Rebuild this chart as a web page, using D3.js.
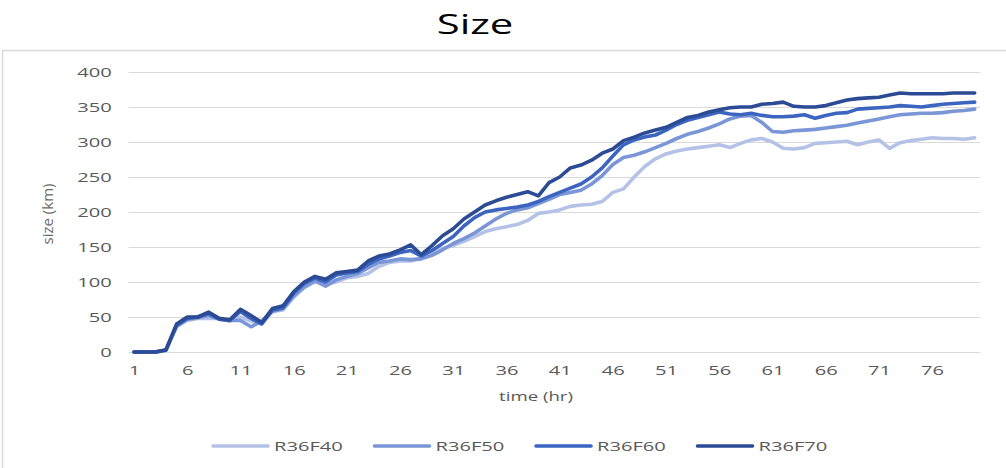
<!DOCTYPE html>
<html>
<head>
<meta charset="utf-8">
<script src="https://cdn.jsdelivr.net/npm/d3@7"></script>
<style>
  html, body { margin: 0; padding: 0; background: #fff; }
  svg { display: block; font-family: "Open Sans", "Noto Sans", "DejaVu Sans", sans-serif; }
</style>
</head>
<body>
<svg id="chart" width="1006" height="468"></svg>
<script>
// Hours 1..80
const hours = d3.range(1, 81);

const seriesNames = ["R36F40", "R36F50", "R36F60", "R36F70"];
const seriesColors = ["#b3c2e6", "#7a96d7", "#3b65c0", "#2b4b94"];

const r36f40 = [0,0,0,2,36,45,48,48,48,44, 50,44,40,58,60,78,92,100,97,100,
  106,108,112,122,128,130,130,134,140,148, 152,158,165,172,176,179,182,188,198,200,
  203,208,210,211,215,228,233,250,265,276, 283,287,290,292,294,296,292,298,303,305,
  300,291,290,292,298,299,300,301,296,300, 303,291,299,302,304,306,305,305,304,306];

const r36f50 = [0,0,0,3,37,47,49,52,47,45, 45,36,44,58,62,80,93,102,94,103,
  108,112,120,128,130,133,132,133,138,146, 155,162,170,180,190,198,203,206,212,218,
  225,228,231,240,252,268,278,281,286,292, 298,305,311,315,320,326,333,337,338,328,
  315,314,316,317,318,320,322,324,327,330, 333,336,339,340,341,341,342,344,345,347];

const r36f60 = [0,0,0,3,38,48,50,55,47,45, 58,48,40,60,63,84,98,106,100,110,
  113,115,125,133,137,142,145,137,145,155, 165,180,192,200,203,205,207,210,215,222,
  228,234,240,250,263,280,296,303,307,310, 317,325,331,335,339,343,340,339,341,338,
  336,336,337,339,334,338,341,342,347,348, 349,350,352,351,350,352,354,355,356,357];

const r36f70 = [0,0,0,3,40,50,50,57,48,46, 61,52,42,62,66,86,100,108,104,113,
  115,117,130,137,140,146,153,139,152,166, 176,190,200,210,216,221,225,229,223,242,
  250,263,267,274,284,290,302,307,313,317, 321,328,335,338,343,346,349,350,350,354,
  355,357,351,350,350,352,356,360,362,363, 364,367,370,369,369,369,369,370,370,370];

const seriesValues = [r36f40, r36f50, r36f60, r36f70];

const yTicks = [0, 50, 100, 150, 200, 250, 300, 350, 400];
const xTickLabels = [1, 6, 11, 16, 21, 26, 31, 36, 41, 46, 51, 56, 61, 66, 71, 76];

const svg = d3.select("#chart");
const W = 1006, H = 468;
const plot = { left: 128.7, right: 980, top: 72, bottom: 352 };
// wide lettering: glyphs are drawn horizontally widened
const SX = 1.55;

// Chart-area frame
svg.append("rect")
  .attr("x", 2.5).attr("y", 50.5)
  .attr("width", W + 20).attr("height", H)
  .attr("fill", "none").attr("stroke", "#d9d9d9").attr("stroke-width", 1.5);

// Title
svg.append("text")
  .attr("transform", `translate(475,34) scale(${SX},1)`)
  .attr("text-anchor", "middle")
  .attr("font-size", 27).attr("fill", "#000")
  .text("Size");

const x = d3.scalePoint().domain(hours).range([plot.left, plot.right]).padding(0.5);
const y = d3.scaleLinear().domain([0, 400]).range([plot.bottom, plot.top]);

// Horizontal gridlines + y axis labels
const yAxis = d3.axisLeft(y).tickValues(yTicks).tickSize(-(plot.right - plot.left)).tickPadding(0);
const gy = svg.append("g").attr("transform", `translate(${plot.left},0)`).call(yAxis);
gy.select(".domain").remove();
gy.selectAll(".tick line").attr("stroke", "#d9d9d9").attr("stroke-width", 1.2);
gy.selectAll(".tick text")
  .attr("x", -17 / SX)
  .attr("transform", `scale(${SX},1)`)
  .attr("fill", "#595959").attr("font-size", 13)
  .attr("font-family", "\"Open Sans\", sans-serif");

// x axis labels
const xAxis = d3.axisBottom(x).tickValues(xTickLabels).tickSize(0).tickPadding(14);
const gx = svg.append("g").attr("transform", `translate(0,${plot.bottom})`).call(xAxis);
gx.select(".domain").remove();
gx.selectAll(".tick text")
  .attr("transform", `scale(${SX},1)`)
  .attr("fill", "#595959").attr("font-size", 13)
  .attr("font-family", "\"Open Sans\", sans-serif");

// Axis titles
svg.append("text")
  .attr("transform", `translate(53,214) rotate(-90)`)
  .attr("text-anchor", "middle")
  .attr("font-size", 15).attr("fill", "#6a6a6a")
  .text("size (km)");

svg.append("text")
  .attr("transform", `translate(536,401) scale(${SX},1)`)
  .attr("text-anchor", "middle")
  .attr("font-size", 12).attr("fill", "#595959")
  .text("time (hr)");

// Series lines
const line = d3.line()
  .x((d, i) => x(hours[i]))
  .y(d => y(d))
  .curve(d3.curveLinear);

seriesValues.forEach((vals, k) => {
  svg.append("path")
    .datum(vals)
    .attr("d", line)
    .attr("fill", "none")
    .attr("stroke", seriesColors[k])
    .attr("stroke-width", 3.6)
    .attr("stroke-linejoin", "round")
    .attr("stroke-linecap", "round");
});

// Legend
const legendY = 446;
const legendStart = 213, legendStep = 161.5, swatchLen = 55;
const lg = svg.append("g");
seriesNames.forEach((name, k) => {
  const lx = legendStart + k * legendStep;
  lg.append("line")
    .attr("x1", lx).attr("x2", lx + swatchLen)
    .attr("y1", legendY).attr("y2", legendY)
    .attr("stroke", seriesColors[k]).attr("stroke-width", 3.6)
    .attr("stroke-linecap", "round");
  lg.append("text")
    .attr("transform", `translate(${lx + swatchLen + 6},${legendY + 4.5}) scale(${SX},1)`)
    .attr("font-size", 13).attr("fill", "#595959")
    .text(name);
});
</script>
</body>
</html>
